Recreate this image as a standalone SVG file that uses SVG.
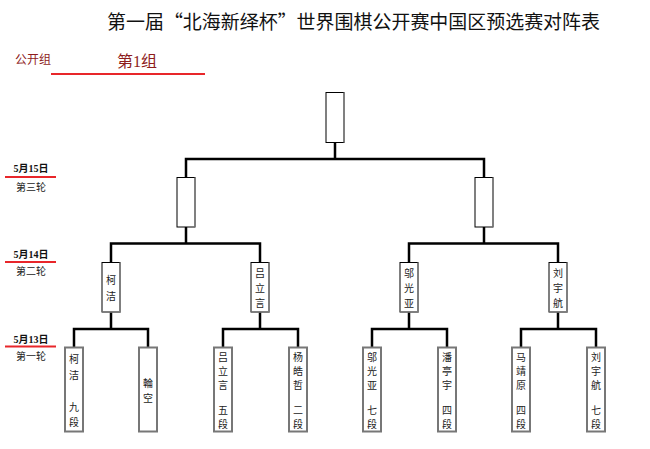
<svg xmlns="http://www.w3.org/2000/svg" width="650" height="449" viewBox="0 0 650 449">
<style>
.t{font-family:"Noto Sans CJK SC","Liberation Serif",serif;fill:#111}
.n{font-family:"Noto Sans CJK SC",sans-serif;font-size:10px;fill:#222;text-anchor:middle;dominant-baseline:central}
.d{font-family:"Liberation Serif","Noto Sans CJK SC",serif;font-size:10px;fill:#111;text-anchor:middle;font-weight:bold}
.r{font-family:"Noto Sans CJK SC","Liberation Serif",serif;font-size:10px;fill:#222;text-anchor:middle}
.dr{fill:#8e1c1c;font-family:"Liberation Serif","Noto Sans CJK SC",serif}
.b{fill:#fff;stroke:#000;stroke-width:1}
.sh{fill:none;stroke:#808080;stroke-width:1.5}
.b1{fill:#fff;stroke:#777;stroke-width:2}
.c{fill:none;stroke:#000;stroke-width:2.5}
.red{stroke:#e8262a;stroke-width:2}
</style>
<rect width="650" height="449" fill="#fff"/>
<text class="t" x="107" y="29" font-size="19" textLength="493" lengthAdjust="spacingAndGlyphs">第一届“北海新绎杯”世界围棋公开赛中国区预选赛对阵表</text>
<text class="dr" x="15" y="64" font-size="12">公开组</text>
<text class="dr" x="117" y="67" font-size="16">第1组</text>
<line class="red" x1="51" y1="74" x2="205" y2="74"/>
<g id="dates">
<text class="d" x="31" y="172">5月15日</text>
<line class="red" x1="5" y1="177" x2="56" y2="177"/>
<text class="r" x="31" y="191">第三轮</text>
<text class="d" x="31" y="258">5月14日</text>
<line class="red" x1="5" y1="262" x2="56" y2="262"/>
<text class="r" x="31" y="275">第二轮</text>
<text class="d" x="31" y="343">5月13日</text>
<line class="red" x1="5" y1="346.5" x2="56" y2="346.5"/>
<text class="r" x="31" y="360">第一轮</text>
</g>
<g id="connectors">
<path class="c" d="M74 347V329H148V347M111 329V312"/>
<path class="c" d="M223 347V329H298V347M260 329V312"/>
<path class="c" d="M372 347V329H447V347M409 329V312"/>
<path class="c" d="M521 347V329H596V347M558 329V312"/>
<path class="c" d="M111 262V243.5H260V262M186 243.5V227"/>
<path class="c" d="M409 262V243.5H558V262M484 243.5V227"/>
<path class="c" d="M186 177V159H484V177M335 159V142"/>
</g>
<g id="final"><rect class="b" x="326" y="92.5" width="18" height="50"/><path class="sh" d="M344 92.5V142.5"/></g>
<g id="semi-left"><rect class="b" x="177" y="177.5" width="18" height="49.5"/><path class="sh" d="M195 177.5V227"/></g>
<g id="semi-right"><rect class="b" x="475" y="177.5" width="18" height="49.5"/><path class="sh" d="M493 177.5V227"/></g>
<g id="r2-kejie"><rect class="b" x="102" y="262.5" width="18" height="49.5"/><path class="sh" d="M120 262.5V312H102"/>
<text class="n" x="111" y="279">柯</text><text class="n" x="111" y="295">洁</text></g>
<g id="r2-lvliyan"><rect class="b" x="251" y="262.5" width="18" height="49.5"/><path class="sh" d="M269 262.5V312H251"/>
<text class="n" x="260" y="272">吕</text><text class="n" x="260" y="287">立</text><text class="n" x="260" y="302">言</text></g>
<g id="r2-wuguangya"><rect class="b" x="400" y="262.5" width="18" height="49.5"/><path class="sh" d="M418 262.5V312H400"/>
<text class="n" x="409" y="272">邬</text><text class="n" x="409" y="287">光</text><text class="n" x="409" y="302">亚</text></g>
<g id="r2-liuyuhang"><rect class="b" x="549" y="262.5" width="18" height="49.5"/><path class="sh" d="M567 262.5V312H549"/>
<text class="n" x="558" y="272">刘</text><text class="n" x="558" y="287">宇</text><text class="n" x="558" y="302">航</text></g>
<g id="r1-kejie"><rect class="b1" x="65" y="347.5" width="18" height="84"/>
<text class="n" x="74" y="358">柯</text><text class="n" x="74" y="374">洁</text><text class="n" x="74" y="406">九</text><text class="n" x="74" y="421">段</text></g>
<g id="r1-bye"><rect class="b1" x="139" y="347.5" width="18" height="84"/>
<text class="n" x="148" y="382">輪</text><text class="n" x="148" y="397">空</text></g>
<g id="r1-lvliyan"><rect class="b1" x="214" y="347.5" width="18" height="84"/>
<text class="n" x="223" y="356">吕</text><text class="n" x="223" y="370">立</text><text class="n" x="223" y="384">言</text><text class="n" x="223" y="409">五</text><text class="n" x="223" y="423">段</text></g>
<g id="r1-yanghaozhe"><rect class="b1" x="289" y="347.5" width="18" height="84"/>
<text class="n" x="298" y="356">杨</text><text class="n" x="298" y="370">皓</text><text class="n" x="298" y="384">哲</text><text class="n" x="298" y="409">二</text><text class="n" x="298" y="423">段</text></g>
<g id="r1-wuguangya"><rect class="b1" x="363" y="347.5" width="18" height="84"/>
<text class="n" x="372" y="356">邬</text><text class="n" x="372" y="370">光</text><text class="n" x="372" y="384">亚</text><text class="n" x="372" y="409">七</text><text class="n" x="372" y="423">段</text></g>
<g id="r1-pantingyu"><rect class="b1" x="438" y="347.5" width="18" height="84"/>
<text class="n" x="447" y="356">潘</text><text class="n" x="447" y="370">亭</text><text class="n" x="447" y="384">宇</text><text class="n" x="447" y="409">四</text><text class="n" x="447" y="423">段</text></g>
<g id="r1-majingyuan"><rect class="b1" x="512" y="347.5" width="18" height="84"/>
<text class="n" x="521" y="356">马</text><text class="n" x="521" y="370">靖</text><text class="n" x="521" y="384">原</text><text class="n" x="521" y="409">四</text><text class="n" x="521" y="423">段</text></g>
<g id="r1-liuyuhang"><rect class="b1" x="587" y="347.5" width="18" height="84"/>
<text class="n" x="596" y="356">刘</text><text class="n" x="596" y="370">宇</text><text class="n" x="596" y="384">航</text><text class="n" x="596" y="409">七</text><text class="n" x="596" y="423">段</text></g>
</svg>
